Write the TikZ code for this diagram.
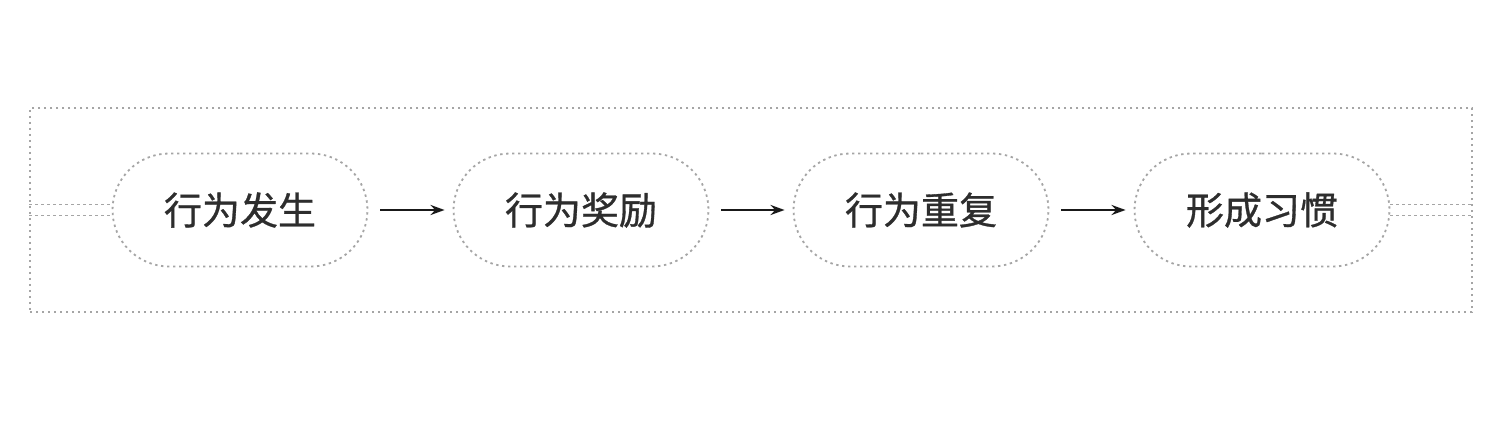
\documentclass[tikz,border=0pt]{standalone}
\usepackage{fontspec}
\newfontfamily\cjk[FakeBold=0.8]{Noto Sans CJK SC}
\definecolor{dotgray}{RGB}{165,165,165}
\definecolor{textgray}{RGB}{45,45,45}
\usetikzlibrary{shapes.misc,arrows.meta}

\begin{document}
\begin{tikzpicture}[x=0.5pt, y=-0.5pt,
    dotline/.style={draw=dotgray, line width=0.9pt, dash pattern=on 1.2pt off 1.8pt},
    stage/.style={dotline, rounded rectangle, minimum width=127.5pt, minimum height=56.5pt,
        inner sep=0pt, font=\cjk\fontsize{19}{19}\selectfont, text=textgray},
    flow/.style={line width=1.2pt, draw=black!90, -{Stealth[length=7pt,width=5pt]},
        shorten <=6pt, shorten >=4pt}]
    % Rahmen
    \fill[white] (0,0) rectangle (1500,422);
    \useasboundingbox (0,0) rectangle (1500,422);
    \node[dotline, rectangle, minimum width=721pt, minimum height=102pt, inner sep=0pt]
        (frame) at (751,210) {};

    % Stufen
    \foreach \x/\name/\label in {240/s1/行为发生, 581/s2/行为奖励, 921/s3/行为重复, 1262/s4/形成习惯} {
        \node[stage] (\name) at (\x,210) {\label};
    }

    % Pfeile
    \foreach \a/\b in {s1/s2, s2/s3, s3/s4} {
        \draw[flow] (\a.east) -- (\b.west);
    }

    % Doppellinien
    \foreach \dy in {-2.75pt, 2.75pt} {
        \draw[dotline] ([yshift=\dy]frame.west) -- ([yshift=\dy]s1.west);
        \draw[dotline] ([yshift=\dy]s4.east) -- ([yshift=\dy]frame.east);
    }
\end{tikzpicture}
\end{document}
